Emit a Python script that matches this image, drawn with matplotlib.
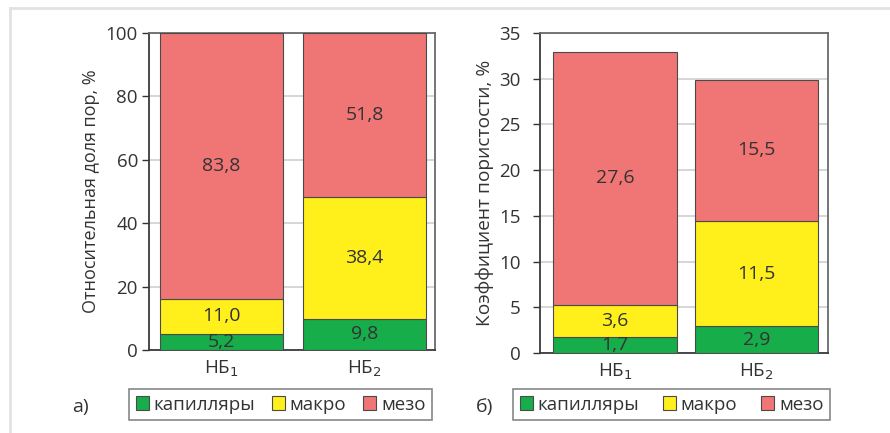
import matplotlib
matplotlib.use("Agg")
import matplotlib.pyplot as plt
from matplotlib.lines import Line2D
from matplotlib.patches import Patch

plt.rcParams["font.family"] = ["Open Sans", "DejaVu Sans"]

# ── data ──────────────────────────────────────────────
samples = ["НБ$_1$", "НБ$_2$"]
pore_types = ["капилляры", "макро", "мезо"]
colors = ["#17ad4a", "#fff01c", "#f07575"]

# a) relative pore share, %
share_cap = [5.2, 9.8]
share_macro = [11.0, 38.4]
share_meso = [83.8, 51.8]

# б) porosity coefficient, %
por_cap = [1.7, 2.9]
por_macro = [3.6, 11.5]
por_meso = [27.6, 15.5]

left_ticks = [0, 20, 40, 60, 80, 100]
right_ticks = [0, 5, 10, 15, 20, 25, 30, 35]

W, H = 890, 433
fig = plt.figure(figsize=(W / 100, H / 100), dpi=100)

# thin page frame (top and left edges)
fig.add_artist(Line2D([10 / W, 1], [1 - 8 / H, 1 - 8 / H], color="#e2e2e2", lw=2))
fig.add_artist(Line2D([10 / W, 10 / W], [0, 1 - 8 / H], color="#e2e2e2", lw=2))


def stacked(ax, layers, ymax, ticks, xlim, width, ylabel, ylsize, tpad):
    x = list(range(len(samples)))
    bottom = [0.0] * len(samples)
    for vals, col in zip(layers, colors):
        ax.bar(x, vals, width=width, bottom=bottom, color=col,
               edgecolor="#4a4a4a", linewidth=0.8, zorder=3)
        for xi, b, v in zip(x, bottom, vals):
            ax.text(xi, b + v / 2, f"{v:.1f}".replace(".", ","),
                    ha="center", va="center", fontsize=14, color="#333333",
                    zorder=4)
        bottom = [b + v for b, v in zip(bottom, vals)]
    ax.set_xlim(*xlim)
    ax.set_ylim(0, ymax)
    ax.set_yticks(ticks)
    ax.set_xticks(x)
    ax.set_xticklabels(samples, fontsize=13.5, color="#333333")
    ax.tick_params(axis="x", length=0, pad=6)
    ax.tick_params(axis="y", labelsize=13.5, colors="#333333",
                   length=5, width=1, direction="out", pad=tpad)
    ax.yaxis.grid(True, color="#cfcfcf", linewidth=1.2, zorder=0)
    ax.set_axisbelow(True)
    for side, sp in ax.spines.items():
        sp.set_color("#6a6a6a")
        sp.set_linewidth(1.3)
    ax.spines["left"].set_color("#3a3a3a")
    ax.spines["bottom"].set_color("#3a3a3a")
    ax.set_ylabel(ylabel, fontsize=ylsize, color="#333333", labelpad=4)


ax1 = fig.add_axes([149 / W, 1 - 350 / H, 286 / W, 317 / H])
stacked(ax1, [share_cap, share_macro, share_meso], 100, left_ticks,
        (-0.507, 1.493), 0.86, "Относительная доля пор, %", 13, 3)

ax2 = fig.add_axes([540 / W, 1 - 353 / H, 288 / W, 320 / H])
stacked(ax2, [por_cap, por_macro, por_meso], 35, right_ticks,
        (-0.53, 1.505), 0.87, "Коэффициент пористости, %", 13.8, 9)

handles = [Patch(facecolor=c, edgecolor="#4a4a4a", linewidth=0.8) for c in colors]

for (x0, x1, letter, lx) in [(129, 432, "а)", 80), (513, 830, "б)", 485)]:
    leg = fig.legend(handles, pore_types, loc="center", ncol=3,
                     bbox_to_anchor=(x0 / W, 1 - 421 / H, (x1 - x0) / W, 33 / H),
                     mode="expand", fontsize=13.5, frameon=True, fancybox=False,
                     handlelength=0.7, handleheight=0.7, handletextpad=0.25,
                     borderpad=0.35, columnspacing=0.6, borderaxespad=0)
    leg.get_frame().set_edgecolor("#6a6a6a")
    leg.get_frame().set_linewidth(1.2)
    for t in leg.get_texts():
        t.set_color("#333333")
    fig.text(lx / W, 1 - 407 / H, letter, fontsize=14, color="#333333",
             ha="center", va="center")

fig.savefig("out.png", dpi=100)
